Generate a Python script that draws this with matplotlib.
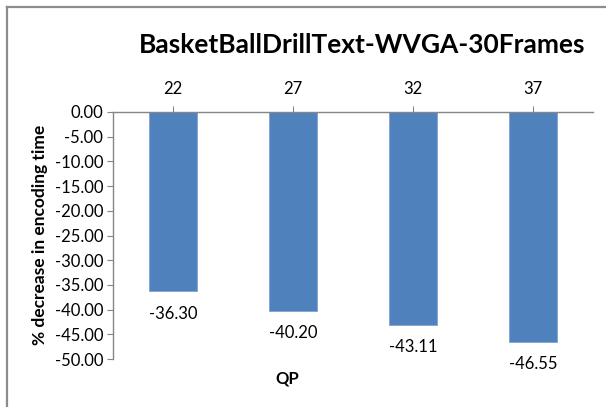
import matplotlib
matplotlib.use("Agg")
import matplotlib.pyplot as plt
from matplotlib.lines import Line2D

categories = ["22", "27", "32", "37"]
values = [-36.30, -40.20, -43.11, -46.55]
value_labels = ["-36.30", "-40.20", "-43.11", "-46.55"]
yticks = [0, -5, -10, -15, -20, -25, -30, -35, -40, -45, -50]

plt.rcParams['font.family'] = ['Lato', 'DejaVu Sans']

W, H = 606, 407
fig = plt.figure(figsize=(W / 100, H / 100), dpi=100)
ax = fig.add_axes([113 / W, 1 - 359 / H, 480 / W, 247 / H])

x = list(range(len(categories)))
ax.bar(x, values, width=0.4, color="#4F81BD", edgecolor="#7FA3CF", linewidth=0.6, zorder=2)
ax.set_xlim(-0.5, 3.5)
ax.set_ylim(-50, 0)

ax.xaxis.tick_top()
ax.set_xticks(x)
ax.set_xticklabels(categories)
ax.set_yticks(yticks)
ax.set_yticklabels([f"{v:.2f}" for v in yticks])

for s in ["bottom", "right"]:
    ax.spines[s].set_visible(False)
for s in ["top", "left"]:
    ax.spines[s].set_color("#868686")
    ax.spines[s].set_linewidth(1.0)
    ax.spines[s].set_zorder(3)

ax.tick_params(axis="x", direction="out", length=4, color="#868686", pad=7, labelsize=12, labelcolor="#000000")
ax.tick_params(axis="y", direction="out", length=4, color="#868686", pad=3, labelsize=12, labelcolor="#000000")

for xi, v, lab in zip(x, values, value_labels):
    ax.annotate(lab, (xi, v), xytext=(0, -16), textcoords="offset points",
                ha="center", va="center", fontsize=12, color="#000000")

fig.text(362 / W, 1 - 45 / H, "BasketBallDrillText-WVGA-30Frames", ha="center", va="center",
         fontsize=19, fontweight="bold", color="#000000")
fig.text(40 / W, 1 - 235 / H, "% decrease in encoding time", ha="center", va="center",
         rotation=90, fontsize=12.5, fontweight="bold", color="#000000")
fig.text(287 / W, 1 - 379 / H, "QP", ha="center", va="center",
         fontsize=12, fontweight="bold", color="#000000")

# chart frame (left and top edges)
fig.add_artist(Line2D([7 / W, 7 / W], [0, 1 - 7 / H], transform=fig.transFigure, color="#8C8C8C", linewidth=1.6))
fig.add_artist(Line2D([7 / W, 1], [1 - 7 / H, 1 - 7 / H], transform=fig.transFigure, color="#8C8C8C", linewidth=1.6))

fig.savefig("out.png", dpi=100)
